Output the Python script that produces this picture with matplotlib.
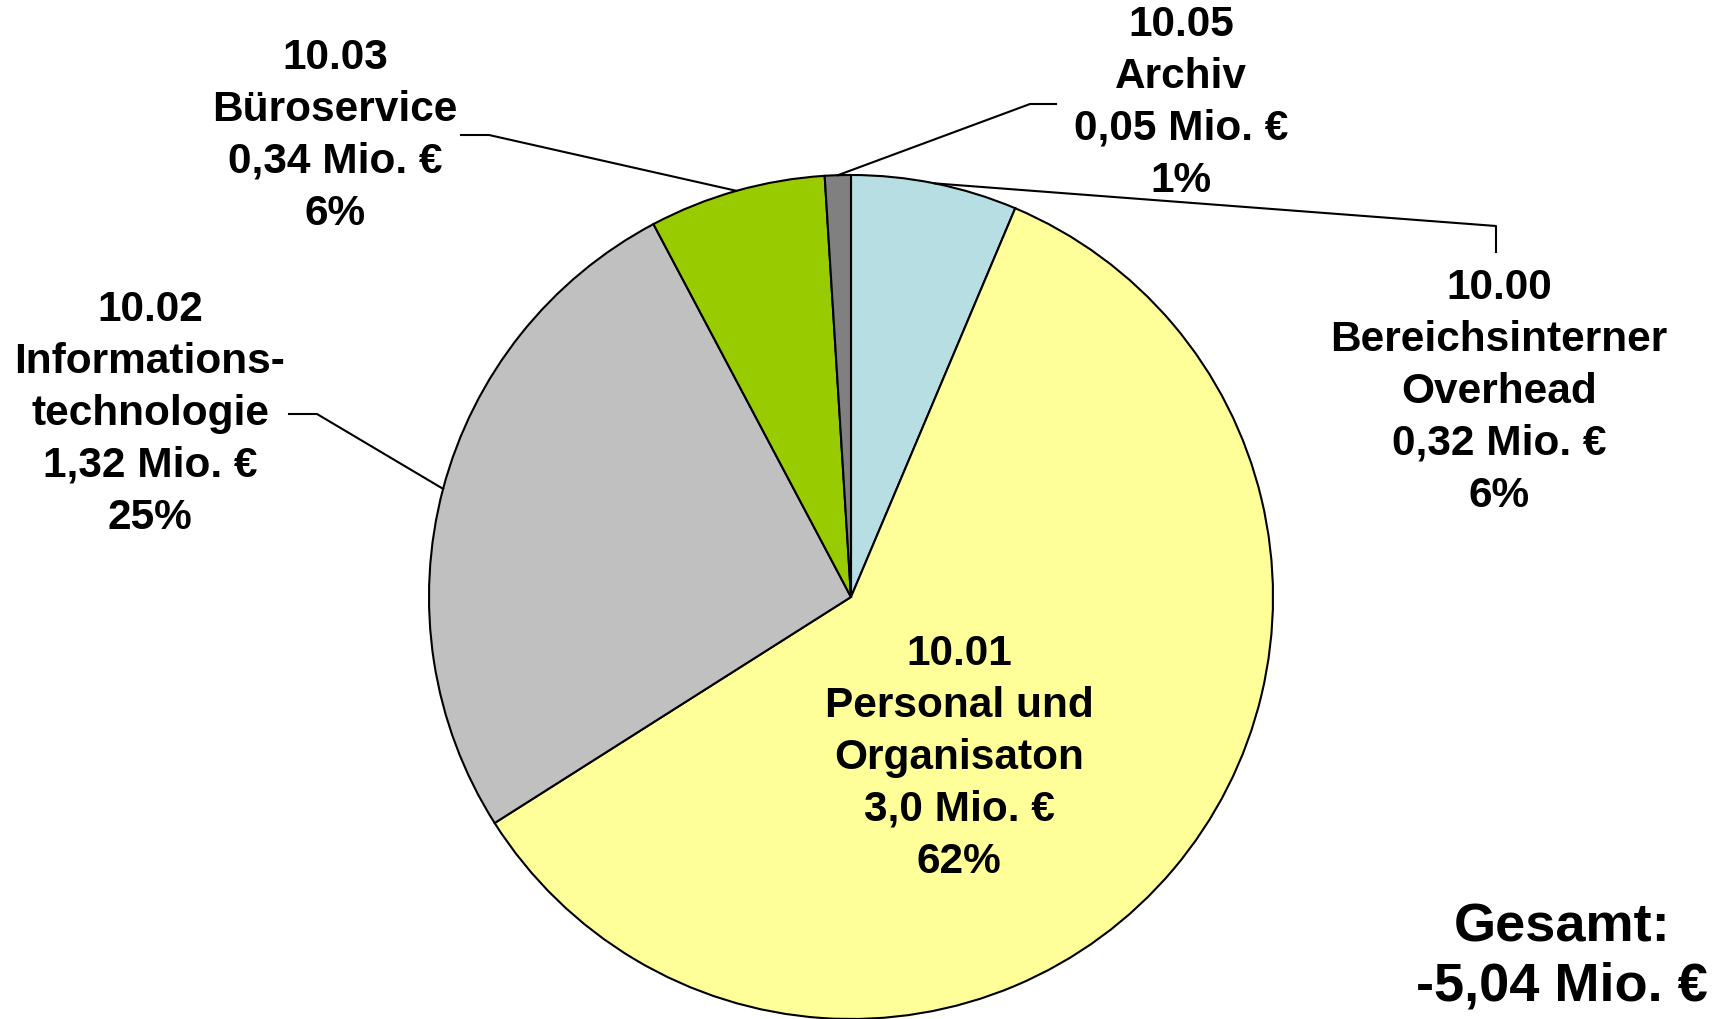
import numpy as np
import matplotlib
matplotlib.use("Agg")
import matplotlib.pyplot as plt

plt.rcParams["font.family"] = ["Liberation Sans", "DejaVu Sans"]

# data, clockwise from 12 o'clock
codes = ["10.00", "10.01", "10.02", "10.03", "10.05"]
names = ["Bereichsinterner\nOverhead", "Personal und\nOrganisaton",
         "Informations-\ntechnologie", "Büroservice", "Archiv"]
values = [0.32, 3.0, 1.32, 0.34, 0.05]
value_labels = ["0,32", "3,0", "1,32", "0,34", "0,05"]
pct_labels = ["6%", "62%", "25%", "6%", "1%"]
colors = ["#B7DEE3", "#FFFF99", "#C0C0C0", "#99CC00", "#808080"]
total_label = "-5,04 Mio. €"

W, H = 1722, 1020
fig = plt.figure(figsize=(W / 100, H / 100), dpi=100)
ax = fig.add_axes([0, 0, 1, 1])

cx, cy, r = 851, H - 598, 422
wedges, _ = ax.pie(values, colors=colors, startangle=90, counterclock=False,
                   center=(cx, cy), radius=r,
                   wedgeprops=dict(edgecolor="black", linewidth=1.5))
ax.set_xlim(0, W)
ax.set_ylim(0, H)
ax.set_aspect("equal")
ax.axis("off")

# label block centres (pixel coords, y from top) and leader elbows
label_pos = [(1499, 392), (959, 758), (150, 414), (335, 136), (1181, 103)]
leaders = {
    0: [(1496, 227), (1496, 253)],
    2: [(317, 415), (289, 415)],
    3: [(489, 136), (461, 136)],
    4: [(1030, 105), (1056, 105)],
}

for i, w in enumerate(wedges):
    text = f"{codes[i]}\n{names[i]}\n{value_labels[i]} Mio. €\n{pct_labels[i]}"
    x, y = label_pos[i]
    ax.text(x, H - y, text, ha="center", va="center", fontsize=30.5,
            fontweight="bold", linespacing=1.38)
    if i in leaders:
        ang = np.deg2rad((w.theta1 + w.theta2) / 2)
        pts = [(cx + r * np.cos(ang), cy + r * np.sin(ang))]
        pts += [(px, H - py) for px, py in leaders[i]]
        xs, ys = zip(*pts)
        ax.plot(xs, ys, color="black", linewidth=1.5)

ax.text(1562, H - 957, "Gesamt:\n" + total_label, ha="center", va="center",
        fontsize=39, fontweight="bold", linespacing=1.25)

fig.savefig("out.png", dpi=100)
